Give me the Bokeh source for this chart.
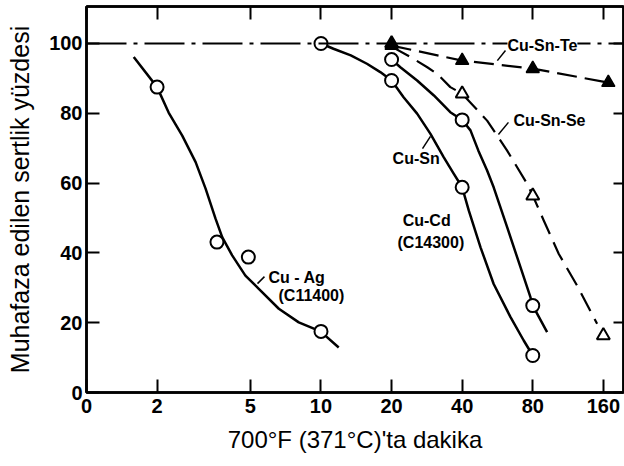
from bokeh.plotting import figure
from bokeh.models import Range1d, LinearAxis, LogAxis, FixedTicker, Span, Label
from bokeh.embed import file_html
from bokeh.resources import INLINE

# ---------------- data ----------------
x_ticks = [1, 2, 5, 10, 20, 40, 80, 160]
x_tick_labels = ["0", "2", "5", "10", "20", "40", "80", "160"]
y_ticks = [0, 20, 40, 60, 80, 100]

# Cu-Ag (C11400) — solid curve and open circles
ag_curve_x = [1.59, 2.0, 2.24, 2.56, 2.92, 3.22, 3.55, 3.79, 4.18, 4.76, 5.43, 6.61, 8.04, 9.95, 11.9]
ag_curve_y = [96.1, 87.5, 80.2, 73.6, 66.0, 58.4, 49.8, 44.5, 39.3, 33.5, 29.7, 24.0, 20.1, 17.5, 12.9]
ag_pts_x = [2, 3.6, 4.9, 10]
ag_pts_y = [87.5, 43.1, 38.8, 17.5]

# Cu-Sn — solid curve and open circles
sn_curve_x = [10, 11.3, 13.4, 15.7, 17.9, 20, 22.5, 25.7, 29.3, 33.4, 36.8, 40, 42.7, 47.9, 54.5, 64.3, 73.2, 80]
sn_curve_y = [100, 98.5, 96.6, 94.2, 91.8, 89.4, 84.6, 79.9, 74.1, 67.4, 62.7, 58.8, 52.1, 41.6, 31.1, 21.6, 14.9, 10.6]
sn_pts_x = [10, 20, 40, 80]
sn_pts_y = [100, 89.4, 58.8, 10.6]

# Cu-Cd (C14300) — solid curve and open circles
cd_curve_x = [20, 21.8, 25.7, 30.3, 35.6, 40, 43.4, 46.9, 51.1, 54.5, 62.2, 70.9, 78.2, 80, 92.1]
cd_curve_y = [95.4, 93.2, 89.4, 85.1, 80.3, 78.1, 75.1, 69.3, 63.6, 58.8, 47.4, 35.9, 27.3, 24.9, 17.3]
cd_pts_x = [20, 40, 80]
cd_pts_y = [95.4, 78.1, 24.9]

# Cu-Sn-Se — dashed curve and open triangles
se_curve_x = [20, 24.1, 28.4, 31.3, 35.6, 40, 51.1, 62.2, 75.7, 80, 89.1, 103.3, 123.7, 150.5]
se_curve_y = [99.1, 96.1, 93.2, 91.3, 87.5, 85.6, 77.9, 69.3, 59.8, 56.4, 49.3, 39.7, 30.6, 19.7]
se_pts_x = [20, 40, 80, 160]
se_pts_y = [100, 85.6, 56.4, 16.3]

# Cu-Sn-Te — dashed line and filled triangles
te_x = [20, 40, 80, 168]
te_y = [99.4, 95.1, 92.8, 88.8]

reference_level = 100

# curve labels
label_texts = ["Cu-Sn-Te", "Cu-Sn-Se", "Cu-Sn", "Cu-Cd", "(C14300)", "Cu - Ag", "(C11400)"]
label_x = [62.4, 66.2, 20.2, 22.3, 21.2, 5.97, 6.59]
label_y = [99.4, 77.9, 67.0, 49.3, 43.0, 33.0, 27.8]

# short leader strokes from labels to curves
leader_x0 = [61.2, 63.0, 27.1, 5.74]
leader_y0 = [98.0, 77.4, 69.9, 33.2]
leader_x1 = [56.5, 57.1, 29.3, 5.36]
leader_y1 = [95.1, 73.9, 73.4, 31.2]

# ---------------- figure ----------------
FONT = "Liberation Sans"

p = figure(width=624, height=466, x_axis_type="log",
           x_range=Range1d(1, 195), y_range=Range1d(0, 110.6),
           output_backend="svg", toolbar_location=None,
           min_border_left=86, min_border_right=1, min_border_top=6, min_border_bottom=74,
           background_fill_color="white", border_fill_color="white")
p.grid.visible = False
p.outline_line_color = "black"
p.outline_line_width = 2.5

def style_axis(ax):
    ax.axis_line_width = 2.5
    ax.axis_line_color = "black"
    ax.major_tick_in = 13
    ax.major_tick_out = 0
    ax.major_tick_line_width = 2
    ax.major_tick_line_color = "black"
    ax.minor_tick_line_color = None
    ax.major_label_text_font = FONT
    ax.major_label_text_font_style = "bold"
    ax.major_label_text_color = "black"
    ax.major_label_text_font_size = "20px"

xa = p.xaxis[0]
xa.ticker = FixedTicker(ticks=x_ticks)
xa.major_label_overrides = {t: l for t, l in zip(x_ticks, x_tick_labels)}
style_axis(xa)
xa.major_label_standoff = 6
xa.axis_label = "700°F (371°C)'ta dakika"
xa.axis_label_text_font = FONT
xa.axis_label_text_font_style = "normal"
xa.axis_label_text_color = "black"
xa.axis_label_text_font_size = "24px"
xa.axis_label_standoff = 10

ya = p.yaxis[0]
ya.ticker = FixedTicker(ticks=y_ticks)
style_axis(ya)
ya.major_label_standoff = 4
ya.axis_label = "Muhafaza edilen sertlik yüzdesi"
ya.axis_label_text_font = FONT
ya.axis_label_text_font_style = "normal"
ya.axis_label_text_color = "black"
ya.axis_label_text_font_size = "25px"
ya.axis_label_standoff = 12

top = LogAxis(ticker=FixedTicker(ticks=x_ticks))
style_axis(top)
top.major_label_overrides = {t: "" for t in x_ticks}
top.major_label_standoff = 0
p.add_layout(top, "above")

right = LinearAxis(ticker=FixedTicker(ticks=y_ticks))
style_axis(right)
right.major_label_overrides = {t: "" for t in y_ticks}
right.major_label_standoff = 0
right.major_tick_in = 10
p.add_layout(right, "right")

# reference dash-dot line at 100 %
p.add_layout(Span(location=reference_level, dimension="width", line_color="black",
                  line_width=2, line_dash="40 7 4 7"))

# curves
for xs, ys in [(ag_curve_x, ag_curve_y), (sn_curve_x, sn_curve_y), (cd_curve_x, cd_curve_y)]:
    p.line(xs, ys, line_color="black", line_width=2.5, line_join="round")
p.line(se_curve_x, se_curve_y, line_color="black", line_width=2.2, line_dash="20 9", line_join="round")
p.line(te_x, te_y, line_color="black", line_width=2.2, line_dash="20 8")

# leaders
p.segment(leader_x0, leader_y0, leader_x1, leader_y1, line_color="black", line_width=1.5)

# markers
for xs, ys in [(ag_pts_x, ag_pts_y), (sn_pts_x, sn_pts_y), (cd_pts_x, cd_pts_y)]:
    p.scatter(xs, ys, marker="circle", size=13, fill_color="white",
              line_color="black", line_width=2)
p.scatter(se_pts_x, se_pts_y, marker="triangle", size=13, fill_color="white",
          line_color="black", line_width=2)
p.scatter(te_x, te_y, marker="triangle", size=13, fill_color="black",
          line_color="black", line_width=1.5)

# labels
for t, lx, ly in zip(label_texts, label_x, label_y):
    p.add_layout(Label(x=lx, y=ly, text=t, text_font=FONT, text_font_style="bold",
                       text_font_size="16px", text_color="black",
                       text_align="left", text_baseline="middle",
                       background_fill_color="white" if t == "Cu-Sn-Te" else None))

open("out.html", "w").write(file_html(p, INLINE))
